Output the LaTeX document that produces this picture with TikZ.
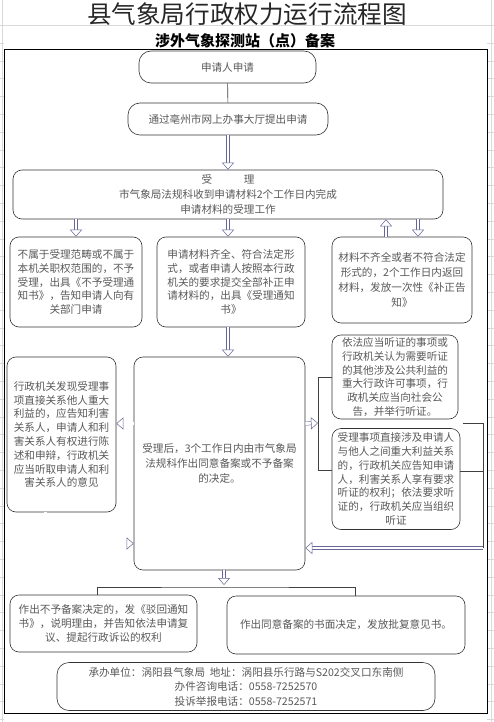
\documentclass[tikz,border=0pt]{standalone}
\usepackage{fontspec}
\setmainfont{Noto Sans CJK SC}
\usetikzlibrary{arrows.meta,positioning,calc}

\begin{document}
\begin{tikzpicture}[
        x=1pt, y=-1pt, % координаты как в пикселях, ось y вниз
        box/.style={draw=black!80, line width=0.6pt, rounded corners=9pt, align=center,
            text=black!65, inner sep=2pt, font=\fontsize{10.6}{13.8}\selectfont},
        conn/.style={draw=black!75, line width=0.6pt},
        harrow/.style={draw=gray!80!blue, line width=0.5pt, double=white, double distance=2.8pt,
            -{Triangle[open, fill=white, length=7pt, width=12pt]}}, % полая стрелка
        grid/.style={draw=gray!30, line width=0.4pt},
    ]

    \useasboundingbox (0,0) rectangle (494,722);

    % сетка листа
    \draw[grid] (0,25) -- (494,25);
    \draw[grid] (2.5,0) -- (2.5,722);
    \draw[grid] (491.5,0) -- (491.5,722);
    \foreach \r in {0,...,38} {
        \draw[grid] (0,{43+\r*17.8}) -- (4,{43+\r*17.8});
        \draw[grid] (487,{43+\r*17.8}) -- (494,{43+\r*17.8});
    }

    % заголовки
    \node[font=\fontsize{24.6}{26}\selectfont, text=black!85] (title) at (247,14) {县气象局行政权力运行流程图};
    \node[font=\bfseries\fontsize{15}{16}\selectfont] (subtitle) at (245,41) {涉外气象探测站（点）备案};

    \draw[line width=0.8pt, fill=white] (4,49) rectangle (487,713);

    % блоки
    \node[box, rounded corners=12pt, minimum width=177pt, minimum height=32pt] (apply) at (227.5,67) {申请人申请};
    \node[box, rounded corners=12pt, minimum width=200pt, minimum height=32pt] (online) at (228,119) {通过亳州市网上办事大厅提出申请};
    \node[box, minimum width=430pt, minimum height=49pt, font=\fontsize{10.6}{15}\selectfont] (accept) at (228,194.5)
        {受\hspace{3em}理\\市气象局法规科收到申请材料2个工作日内完成\\申请材料的受理工作};

    \node[box, minimum width=132pt, minimum height=90pt] (reject) at (76,282)
        {不属于受理范畴或不属于\\本机关职权范围的，不予\\受理，出具《不予受理通\\知书》，告知申请人向有\\关部门申请};
    \node[box, minimum width=148pt, minimum height=90pt] (complete) at (231,282)
        {申请材料齐全、符合法定形\\式，或者申请人按照本行政\\机关的要求提交全部补正申\\请材料的，出具《受理通知\\书》};
    \node[box, minimum width=140pt, minimum height=86pt, font=\fontsize{10.6}{15}\selectfont] (correct) at (402,280)
        {材料不齐全或者不符合法定\\形式的，2个工作日内返回\\材料，发放一次性《补正告\\知》};

    \node[box, minimum width=109pt, minimum height=155pt] (notify) at (61.5,434.5)
        {行政机关发现受理事\\项直接关系他人重大\\利益的，应告知利害\\关系人，申请人和利\\害关系人有权进行陈\\述和申辩，行政机关\\应当听取申请人和利\\害关系人的意见};
    \node[box, minimum width=171pt, minimum height=213pt, font=\fontsize{10.6}{15}\selectfont] (decide) at (219.5,463.5)
        {受理后，3个工作日内由市气象局\\法规科作出同意备案或不予备案\\的决定。};
    \node[box, minimum width=126pt, minimum height=84pt] (hear1) at (395,377)
        {依法应当听证的事项或\\行政机关认为需要听证\\的其他涉及公共利益的\\重大行政许可事项，行\\政机关应当向社会公\\告，并举行听证。};
    \node[box, minimum width=128pt, minimum height=101pt] (hear2) at (396,479)
        {受理事项直接涉及申请人\\与他人之间重大利益关系\\的，行政机关应告知申请\\人，利害关系人享有要求\\听证的权利；依法要求听\\证的，行政机关应当组织\\听证};

    \node[box, minimum width=187pt, minimum height=57pt] (refuse) at (103.5,623.5)
        {作出不予备案决定的，发《驳回通知\\书》，说明理由，并告知依法申请复\\议、提起行政诉讼的权利};
    \node[box, minimum width=238pt, minimum height=58pt] (approve) at (346,625)
        {作出同意备案的书面决定，发放批复意见书。};
    \node[box, rounded corners=12pt, minimum width=378pt, minimum height=48pt, font=\fontsize{10.6}{14.5}\selectfont] (contact) at (246,686.5)
        {承办单位：涡阳县气象局\ \ 地址：涡阳县乐行路与S202交叉口东南侧\\办件咨询电话：0558-7252570\\投诉举报电话：0558-7252571};

    % связи
    \draw[conn] (apply) -- (online);
    \draw[harrow] (online) -- (accept);
    \draw[harrow] (accept.south -| reject.north) -- (reject.north);
    \draw[harrow] ([xshift=-3pt]accept.south -| complete.north) -- ([xshift=-3pt]complete.north);
    \draw[harrow] ([xshift=-16pt]correct.north) -- ([xshift=-16pt]correct.north |- accept.south);
    \draw[harrow] ([xshift=16pt]correct.north |- accept.south) -- ([xshift=16pt]correct.north);
    \draw[harrow] ([xshift=-3pt]complete.south) -- ([xshift=-3pt]complete.south |- decide.north);

    \draw[harrow] ([yshift=40pt]decide.west) -- ([yshift=40pt]decide.west -| notify.east);
    \draw[harrow] ([xshift=-16pt]notify.south) |- ([yshift=-80pt]decide.west);

    % правая скобка к блокам слушаний
    \coordinate (brk) at (318,423);
    \draw[harrow] ([yshift=40pt]decide.east) -- (brk);
    \draw[conn] (hear1.west) -- (brk |- hear1.west) -- (brk |- 0,470) -- (hear2.west |- 0,470);

    \coordinate (rtop) at (483,423);
    \coordinate (rbot) at (483,548);
    \draw[conn] (463,423) -- (rtop) -- (rbot);
    \draw[conn] ([yshift=8pt]hear2.east) -- ([yshift=8pt]hear2.east -| rtop);
    \draw[harrow] (rbot) -- (rbot -| decide.east);

    % развилка к результатам
    \coordinate (split) at (224,587);
    \draw[harrow] ([xshift=4.5pt]decide.south) -- ([yshift=2pt]split);
    \draw[conn] ([xshift=-6pt]refuse.north) |- (split) -| ([xshift=9pt]approve.north);
\end{tikzpicture}
\end{document}
